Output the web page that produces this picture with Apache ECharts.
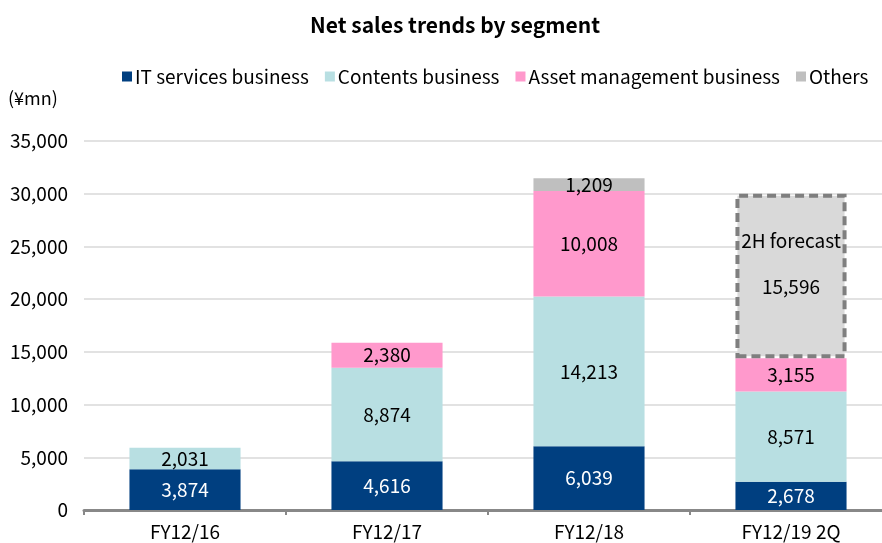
<!DOCTYPE html>
<html>
<head>
<meta charset="utf-8">
<script src="https://cdn.jsdelivr.net/npm/echarts@6/dist/echarts.min.js"></script>
<style>
  html, body { margin: 0; padding: 0; background: #fff; }
  #main { width: 882px; height: 543px; }
</style>
</head>
<body>
<div id="main"></div>
<script>
// 数据
const categories = ['FY12/16', 'FY12/17', 'FY12/18', 'FY12/19 2Q'];
const itServices = [3874, 4616, 6039, 2678];
const contents = [2031, 8874, 14213, 8571];
const assetMgmt = [null, 2380, 10008, 3155];
const others = [null, null, 1209, null];
const forecast = [null, null, null, 15596];

const FONT = '"Noto Sans CJK JP", "Noto Sans", sans-serif';
const fmt = (v) => Number(v).toLocaleString('en-US');

const chart = echarts.init(document.getElementById('main'));

function seg(name, data, color, labelColor) {
  return {
    name: name,
    type: 'bar',
    stack: 'total',
    barWidth: '55%',
    data: data,
    itemStyle: { color: color },
    label: {
      show: true,
      position: 'inside',
      color: labelColor,
      fontFamily: FONT,
      fontSize: 19,
      formatter: (p) => fmt(p.value),
    },
  };
}

chart.setOption({
  animation: false,
  textStyle: { fontFamily: FONT },
  title: {
    text: 'Net sales trends by segment',
    left: 305,
    top: 10,
    textStyle: { fontFamily: FONT, fontSize: 21, fontWeight: 'bold', color: '#000' },
  },
  legend: {
    left: 117,
    top: 62,
    itemWidth: 10,
    itemHeight: 10,
    itemGap: 16,
    icon: 'rect',
    textStyle: { fontFamily: FONT, fontSize: 19, color: '#000', padding: [0, 0, 0, -2] },
    data: ['IT services business', 'Contents business', 'Asset management business', 'Others'],
  },
  graphic: [{
    type: 'text',
    left: 8,
    top: 89,
    style: { text: '(¥mn)', fontFamily: FONT, fontSize: 18, fill: '#000' },
  }],
  grid: { left: 84, top: 141, right: -10, bottom: 33, outerBoundsMode: 'none' },
  xAxis: {
    type: 'category',
    data: categories,
    axisLine: { lineStyle: { color: '#888', width: 3 } },
    axisTick: { show: true, length: 5, lineStyle: { color: '#888', width: 2 } },
    axisLabel: { color: '#000', fontFamily: FONT, fontSize: 19, margin: 12 },
  },
  yAxis: {
    type: 'value',
    min: 0,
    max: 35000,
    interval: 5000,
    axisLine: { show: false },
    axisTick: { show: false },
    splitLine: { lineStyle: { color: '#d9d9d9', width: 1.5 } },
    axisLabel: { color: '#000', fontFamily: FONT, fontSize: 19, margin: 16, formatter: (v) => fmt(v) },
  },
  series: [
    seg('IT services business', itServices, '#003f80', '#fff'),
    seg('Contents business', contents, '#b8dfe2', '#000'),
    seg('Asset management business', assetMgmt, '#ff99cc', '#000'),
    seg('Others', others, '#bfbfbf', '#000'),
    {
      name: '2H forecast',
      type: 'bar',
      stack: 'total',
      barWidth: '55%',
      data: forecast,
      itemStyle: {
        color: '#d9d9d9',
        borderColor: '#7f7f7f',
        borderWidth: 4,
        borderType: [9, 5],
      },
      label: {
        show: true,
        position: 'inside',
        offset: [0, -12],
        fontFamily: FONT,
        color: '#000',
        formatter: (p) => '{a|2H forecast}\n{b|' + fmt(p.value) + '}',
        rich: {
          a: { fontSize: 19, lineHeight: 46, fontFamily: FONT },
          b: { fontSize: 19, lineHeight: 46, fontFamily: FONT },
        },
      },
    },
  ],
});
</script>
</body>
</html>
